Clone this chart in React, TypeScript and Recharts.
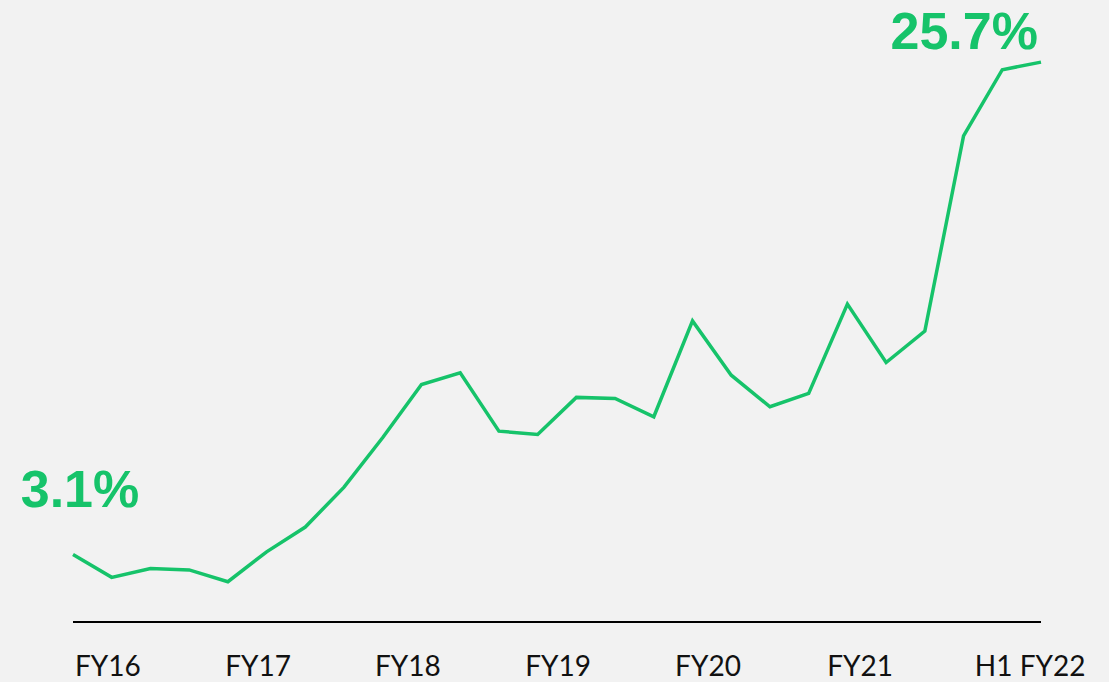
import { Line, LineChart, XAxis, YAxis } from 'recharts';

// share (%) per period
const shareValues = [
  3.1, 2.05, 2.45, 2.39, 1.85, 3.22, 4.36, 6.19, 8.47, 10.9, 11.44, 8.76, 8.61,
  10.31, 10.26, 9.42, 13.82, 11.33, 9.88, 10.49, 14.59, 11.91, 13.35, 22.31,
  25.35, 25.7,
];

const yearLabels = ['FY16', 'FY17', 'FY18', 'FY19', 'FY20', 'FY21', 'H1 FY22'];
const yearTickAt = [0.9, 4.78, 8.65, 12.53, 16.4, 20.33, 24.72];

const GREEN = '#16c36a';
const BG = '#f2f2f2';

const data = shareValues.map((v, i) => ({ idx: i, share: v }));

function YearTick({ x, y, payload }: any) {
  const i = yearTickAt.indexOf(payload.value);
  return (
    <text
      x={x}
      y={y + 46}
      textAnchor="middle"
      fontFamily="Lato, 'Open Sans', sans-serif"
      fontSize={28}
      fill="#111"
    >
      {yearLabels[i]}
    </text>
  );
}

function EndLabel({ x, y, index, value }: any) {
  if (index === 0) {
    return (
      <text
        x={x + 7}
        y={y - 47}
        textAnchor="middle"
        fontFamily="'Liberation Sans', Arial, sans-serif"
        fontWeight="bold"
        fontSize={52}
        fill={GREEN}
      >
        {value.toFixed(1)}%
      </text>
    );
  }
  if (index === shareValues.length - 1) {
    return (
      <text
        x={x - 3}
        y={y - 13}
        textAnchor="end"
        fontFamily="'Liberation Sans', Arial, sans-serif"
        fontWeight="bold"
        fontSize={52}
        fill={GREEN}
      >
        {value.toFixed(1)}%
      </text>
    );
  }
  return null;
}

export default function App() {
  return (
    <div
      style={{
        position: 'absolute',
        left: 0,
        top: 0,
        width: 1109,
        height: 682,
        background: BG,
        overflow: 'hidden',
      }}
    >
      <LineChart
        width={1109}
        height={682}
        data={data}
        margin={{ top: 12, right: 68, left: 73, bottom: 0 }}
      >
        <XAxis
          dataKey="idx"
          type="number"
          domain={[0, shareValues.length - 1]}
          ticks={yearTickAt}
          interval={0}
          tickLine={false}
          axisLine={{ stroke: '#000', strokeWidth: 2 }}
          tick={<YearTick />}
          height={60}
        />
        <YAxis hide domain={[0, 28]} />
        <Line
          type="linear"
          dataKey="share"
          stroke={GREEN}
          strokeWidth={3.5}
          dot={false}
          activeDot={false}
          isAnimationActive={false}
          label={<EndLabel />}
        />
      </LineChart>
    </div>
  );
}
